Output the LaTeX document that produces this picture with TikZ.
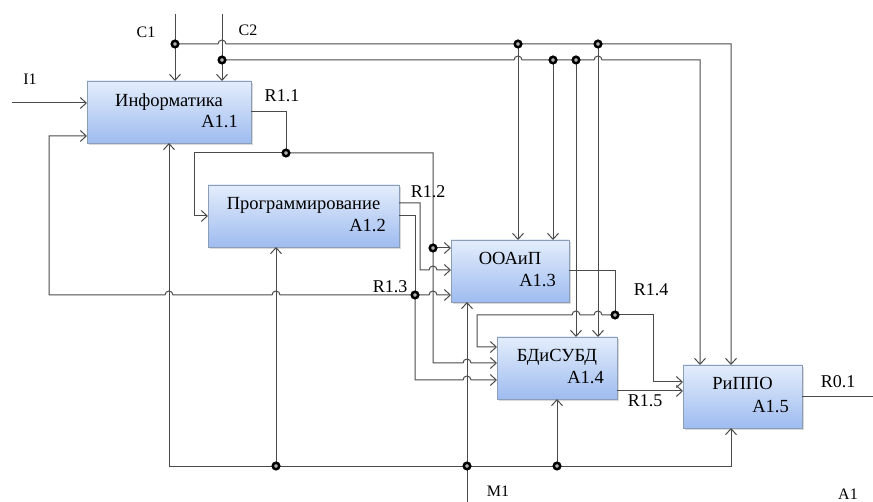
\documentclass[tikz,border=0pt]{standalone}
\usepackage{fontspec}
\setmainfont{Liberation Serif}
\usetikzlibrary{arrows.meta,positioning,shadows}
\definecolor{wirecol}{HTML}{4A4A4A}
\definecolor{boxline}{HTML}{8C9DB8}
\definecolor{boxtop}{HTML}{E4EDFB}
\definecolor{boxbot}{HTML}{9EBCF0}
\newcommand{\hopr}{arc[start angle=180,end angle=0,radius=4pt]}
\newcommand{\hopl}{arc[start angle=0,end angle=180,radius=4pt]}

\begin{document}
\begin{tikzpicture}[x=1pt,y=-1pt,
    >={Straight Barb[length=6pt,width=11pt]},
    link/.style={draw=wirecol,line width=1pt},
    arr/.style={link,->},
    blk/.style={draw=boxline,line width=0.8pt,top color=boxtop,bottom color=boxbot,
      inner sep=0pt,outer sep=0pt,
      drop shadow={shadow xshift=1.5pt,shadow yshift=-2pt,opacity=0.3}},
    nm/.style={font=\fontsize{18.5}{20}\selectfont,inner sep=0pt,text=black},
    lbl/.style={font=\fontsize{18}{20}\selectfont,inner sep=0pt,text=black},
    slbl/.style={font=\fontsize{16}{18}\selectfont,inner sep=0pt,text=black},
    jdot/.style={circle,draw=black,fill=gray!60,line width=2.5pt,inner sep=0pt,minimum size=6.5pt}]

  \useasboundingbox (0,0) rectangle (873,502);

  % Blocks
  \node[blk,minimum width=164pt,minimum height=62pt] (a11) at (169,112) {};
  \node[blk,minimum width=191pt,minimum height=62pt] (a12) at (303.5,216) {};
  \node[blk,minimum width=118pt,minimum height=62pt] (a13) at (510,271) {};
  \node[blk,minimum width=120pt,minimum height=62pt] (a14) at (557,368) {};
  \node[blk,minimum width=119pt,minimum height=63pt] (a15) at (742.5,396.5) {};

  \node[nm,below=12pt of a11.north] (a11name) {Информатика};
  \node[nm,above left=15pt and 13pt of a11.south east] (a11num) {A1.1};
  \node[nm,below=12pt of a12.north] (a12name) {Программирование};
  \node[nm,above left=15pt and 13pt of a12.south east] (a12num) {A1.2};
  \node[nm,below=12pt of a13.north] (a13name) {ООАиП};
  \node[nm,above left=15pt and 13pt of a13.south east] (a13num) {A1.3};
  \node[nm,below=12pt of a14.north] (a14name) {БДиСУБД};
  \node[nm,above left=15pt and 13pt of a14.south east] (a14num) {A1.4};
  \node[nm,below=12pt of a15.north] (a15name) {РиППО};
  \node[nm,above left=15pt and 13pt of a15.south east] (a15num) {A1.5};

  % Controls
  \coordinate (c1in) at (175,14);
  \coordinate (c2in) at (222,14);
  \coordinate (c1j) at (175,44);
  \coordinate (c2j) at (222,60);
  \coordinate (c1a) at (518,44);
  \coordinate (c1b) at (598,44);
  \coordinate (c2a) at (553,60);
  \coordinate (c2b) at (576,60);
  \draw[arr] (c1in) -- (c1in |- a11.north);
  \draw[arr] (c2in) -- (c2in |- a11.north);
  \draw[arr] (c1j) -- (218,44) \hopr -- (731,44) -- (731,44 |- a15.north);
  \draw[arr] (c2j) -- (514,60) \hopr -- (594,60) \hopr -- (700,60) -- (700,60 |- a15.north);
  \draw[arr] (c1a) -- (c1a |- a13.north);
  \draw[arr] (c2a) -- (c2a |- a13.north);
  \draw[arr] (c2b) -- (c2b |- a14.north);
  \draw[arr] (c1b) -- (c1b |- a14.north);

  % Input
  \coordinate (i1in) at (12,103);
  \draw[arr] (i1in) -- (i1in -| a11.west);

  % R1.1
  \coordinate (r11j) at (286,153);
  \coordinate (r11k) at (433,248);
  \draw[link] (a11.east) -| (r11j);
  \draw[arr] (r11j) -- (194,153) |- (a12.west);
  \draw[arr] (r11j) -- (433,153) -- (433,363) -- (463,363) \hopr -- (a14.west |- 433,363);
  \draw[arr] (r11k) -- (r11k -| a13.west);

  % R1.2, R1.3
  \coordinate (r13j) at (415,295);
  \draw[arr] ([yshift=13pt]a12.east) -- (420,203) -- (420,270) -- (429,270) \hopr -- (a13.west |- 420,270);
  \draw[link] (a12.east) -| (r13j);
  \draw[arr] (r13j) -- (429,295) \hopr -- (a13.west |- 415,295);
  \draw[arr] (r13j) -- (415,380) -- (463,380) \hopr -- (a14.west |- 415,380);
  \draw[arr] (r13j) -- (280,295) \hopl -- (173,295) \hopl -- (49,295) |- ([yshift=-24pt]a11.west);

  % R1.4
  \coordinate (r14j) at (615,315);
  \draw[link] (a13.east) -| (r14j);
  \draw[arr] (r14j) -- (602,315) \hopl -- (580,315) \hopl -- (477,315) |- ([yshift=21pt]a14.west);
  \draw[arr] (r14j) -- (653,315) |- ([yshift=14.5pt]a15.west);

  % R1.5, R0.1
  \draw[arr] ([yshift=-23pt]a14.east) -- ([yshift=5.5pt]a15.west);
  \coordinate (r01out) at (873,396.5);
  \draw[link] (a15.east) -- (r01out);

  % Mechanism
  \coordinate (m1in) at (467,505);
  \coordinate (m1j) at (467,466);
  \coordinate (m1a) at (276,466);
  \coordinate (m1b) at (557,466);
  \draw[arr] (m1in) -- (m1in |- a13.south);
  \draw[arr] (m1j) -| (a11.south);
  \draw[arr] (m1j) -| ([xshift=-11.5pt]a15.south);
  \draw[arr] (m1a) -- (m1a |- a12.south);
  \draw[arr] (m1b) -- (m1b |- a14.south);

  % Junctions
  \foreach \d in {c1j,c2j,c1a,c1b,c2a,c2b,r11j,r11k,r13j,r14j,m1j,m1a,m1b}
    \node[jdot] (dot-\d) at (\d) {};

  % Labels
  \node[slbl] (lc1) at (146,32) {C1};
  \node[slbl] (lc2) at (248,30) {C2};
  \node[slbl] (li1) at (30,79) {I1};
  \node[lbl] (lr11) at (282,96) {R1.1};
  \node[lbl] (lr12) at (428,192) {R1.2};
  \node[lbl] (lr13) at (390,287) {R1.3};
  \node[lbl] (lr14) at (651,290) {R1.4};
  \node[lbl] (lr15) at (645,401) {R1.5};
  \node[lbl] (lr01) at (838,382) {R0.1};
  \node[slbl] (lm1) at (498,491) {M1};
  \node[slbl] (la1) at (848,494) {A1};

\end{tikzpicture}
\end{document}
